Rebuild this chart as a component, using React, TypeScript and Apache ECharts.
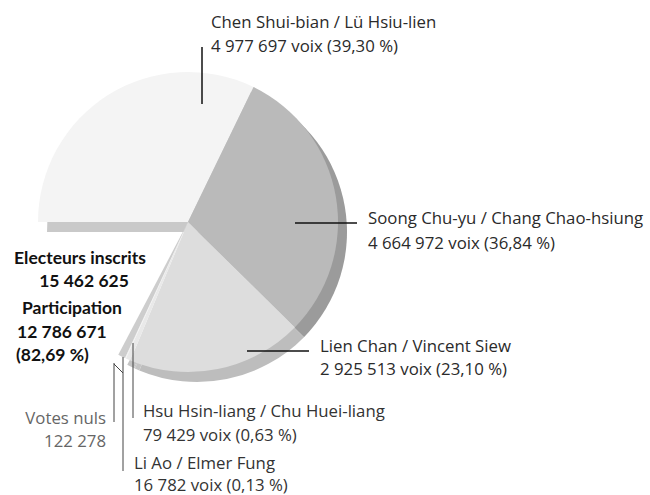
import React, { useEffect, useRef } from "react";
import * as echarts from "echarts";

// ---- Data ----
const categories = [
  "Chen Shui-bian / Lü Hsiu-lien",
  "Soong Chu-yu / Chang Chao-hsiung",
  "Lien Chan / Vincent Siew",
  "Hsu Hsin-liang / Chu Huei-liang",
  "Li Ao / Elmer Fung",
  "Votes nuls",
  "Abstention",
];
const votes = [4977697, 4664972, 2925513, 79429, 16782, 122278, 2675954];
const candidateCount = 5;
const registeredTitle = "Electeurs inscrits";
const participationTitle = "Participation";
const voixWord = "voix";

// ---- Helpers ----
const fmt = (n: number) => String(n).replace(/\B(?=(\d{3})+(?!\d))/g, " ");
const pct = (x: number) => (x * 100).toFixed(2).replace(".", ",") + " %";

const validVotes = votes.slice(0, candidateCount).reduce((a, b) => a + b, 0);
const castVotes = votes.slice(0, 6).reduce((a, b) => a + b, 0);
const registered = votes.reduce((a, b) => a + b, 0);

// ---- Styles ----
const topColors = ["#f4f4f4", "#bababa", "#dddddd", "#e9e9e9", "#f2f2f2", "#cdcdcd", "rgba(0,0,0,0)"];
const sideColors = ["#c9c9c9", "#9b9b9b", "#bdbdbd", "#c4c4c4", "#c4c4c4", "#c4c4c4", "rgba(0,0,0,0)"];
const FONT = "'Open Sans'";
const FS = 16.8;
const BFONT = "Lato";
const BFS = 17.5;

type Lay = { lines: number[][]; x: number; y1: number; y2: number; align: string; color: string; lw: number };
const layouts: Lay[] = [
  { lines: [[202, 47, 202, 104]], x: 211, y1: 21, y2: 45, align: "left", color: "#2a2a2a", lw: 1.5 },
  { lines: [[295, 223, 357, 223]], x: 368, y1: 217, y2: 242, align: "left", color: "#2a2a2a", lw: 1.5 },
  { lines: [[247, 351, 309, 351]], x: 320, y1: 345, y2: 368, align: "left", color: "#2a2a2a", lw: 1.5 },
  { lines: [[133, 343, 133, 418]], x: 143, y1: 410, y2: 434, align: "left", color: "#333", lw: 1 },
  { lines: [[123, 357, 123, 471], [114, 364, 123, 373]], x: 134, y1: 462, y2: 484, align: "left", color: "#333", lw: 1 },
  { lines: [[114, 363, 114, 422]], x: 106, y1: 417, y2: 440, align: "right", color: "#666", lw: 1 },
];

function buildGraphic() {
  const els: any[] = [];
  layouts.forEach((l, i) => {
    l.lines.forEach((s) =>
      els.push({
        type: "line",
        shape: { x1: s[0], y1: s[1], x2: s[2], y2: s[3] },
        style: { stroke: i < 3 ? "#111" : "#444", lineWidth: l.lw },
        z: 10,
      })
    );
    const line1 = categories[i];
    const line2 =
      i < candidateCount
        ? `${fmt(votes[i])} ${voixWord} (${pct(votes[i] / validVotes)})`
        : fmt(votes[i]);
    [line1, line2].forEach((t, k) =>
      els.push({
        type: "text",
        x: l.x,
        y: k === 0 ? l.y1 : l.y2,
        style: {
          text: t,
          fill: l.color,
          font: `${FS}px ${FONT}`,
          align: l.align,
          verticalAlign: "middle",
        },
        z: 10,
      })
    );
  });
  const bold = (t: string, x: number, y: number, align: string) => ({
    type: "text",
    x,
    y,
    style: { text: t, fill: "#111", font: `bold ${BFS}px ${BFONT}`, align, verticalAlign: "middle" },
    z: 10,
  });
  els.push(bold(registeredTitle, 80, 257, "center"));
  els.push(bold(fmt(registered), 84, 280, "center"));
  els.push(bold(participationTitle, 22, 307, "left"));
  els.push(bold(fmt(castVotes), 17, 331, "left"));
  els.push(bold(`(${pct(castVotes / registered)})`, 16, 354, "left"));
  return els;
}

function pieData(colors: string[]) {
  return categories.map((name, i) => ({
    name,
    value: votes[i],
    itemStyle: { color: colors[i] },
  }));
}

export default function App() {
  const ref = useRef<HTMLDivElement>(null);
  useEffect(() => {
    if (!ref.current) return;
    const chart = echarts.init(ref.current, undefined, { renderer: "svg" });
    const common = {
      type: "pie",
      radius: 150,
      startAngle: 180,
      clockwise: true,
      silent: true,
      label: { show: false },
      labelLine: { show: false },
      emphasis: { disabled: true },
      itemStyle: { borderWidth: 0 },
      avoidLabelOverlap: false,
    };
    chart.setOption({
      animation: false,
      backgroundColor: "#ffffff",
      series: [
        { ...common, name: "side", center: [197, 232], data: pieData(sideColors), z: 1 },
        { ...common, name: "top", center: [188, 222], data: pieData(topColors), z: 2 },
      ],
      graphic: buildGraphic(),
    });
    return () => chart.dispose();
  }, []);
  return (
    <div
      ref={ref}
      style={{ position: "fixed", left: 0, top: 0, width: 650, height: 495 }}
    />
  );
}
